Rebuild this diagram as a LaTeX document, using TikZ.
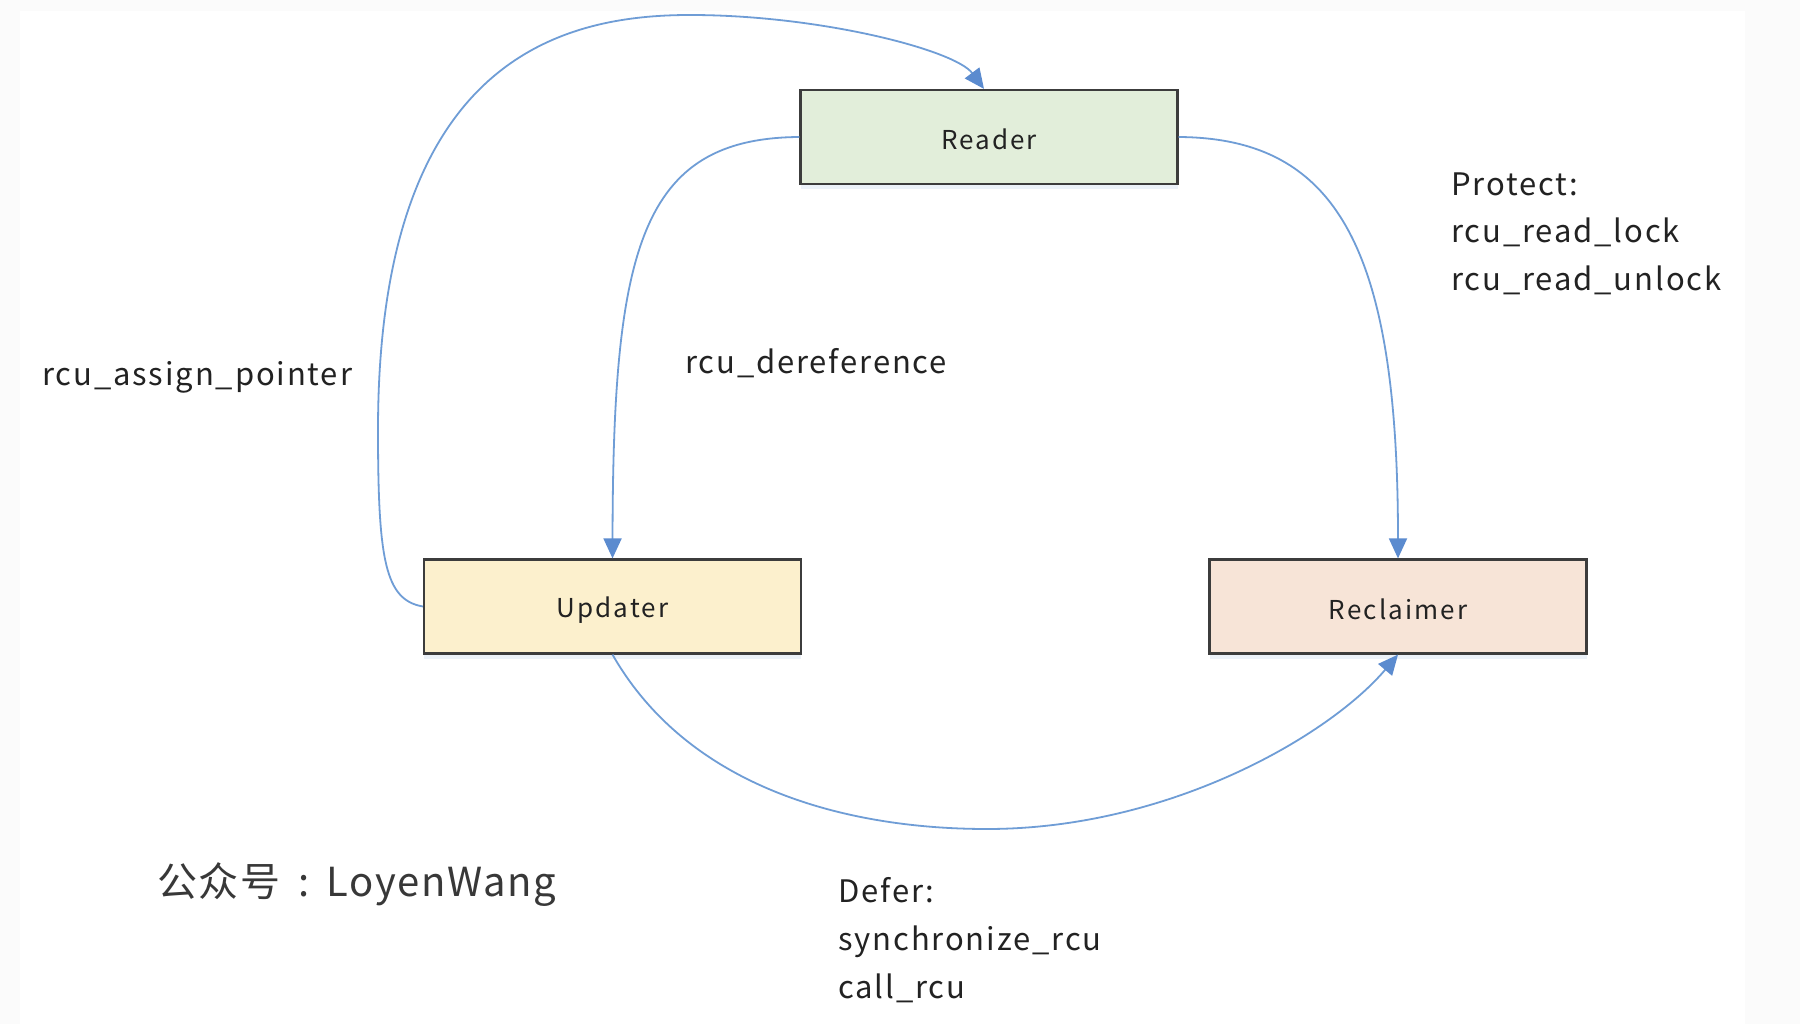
\documentclass[tikz,border=0pt]{standalone}
\usepackage{fontspec}
\setmainfont{Noto Sans CJK SC}
\newfontfamily\lblfont[LetterSpace=6]{Noto Sans CJK SC}
\newfontfamily\boxfont[LetterSpace=8]{Noto Sans CJK SC}
\newfontfamily\wmfont[LetterSpace=4]{Noto Sans CJK SC}
\usetikzlibrary{arrows.meta,shadows}
\definecolor{lineblue}{HTML}{6F9DD6}
\definecolor{tipblue}{HTML}{5B8BCF}
\definecolor{readerfill}{HTML}{E2EEDA}
\definecolor{updaterfill}{HTML}{FCF0CD}
\definecolor{reclaimfill}{HTML}{F7E4D7}
\definecolor{boxborder}{HTML}{3C3C3C}
\definecolor{txt}{HTML}{222222}
\tikzset{
  box/.style={draw=boxborder, line width=2.2pt, minimum width=377pt, minimum height=94pt,
    inner sep=0pt, font=\boxfont\fontsize{26}{30}\selectfont, text=txt,
    drop shadow={shadow xshift=0pt, shadow yshift=-5pt, fill=lineblue!25, opacity=0.5}},
  boxtext/.style={inner sep=0pt, text=txt, font=\boxfont\fontsize{26}{30}\selectfont},
  conn/.style={draw=lineblue, line width=1.8pt, -{Triangle[length=20pt,width=18pt,fill=tipblue,color=tipblue]}},
  lbl/.style={anchor=mid west, inner sep=0pt, text=txt, font=\lblfont\fontsize{31}{36}\selectfont},
  wm/.style={anchor=mid west, inner sep=0pt, text=txt!90, font=\wmfont\fontsize{40}{46}\selectfont}
}
\begin{document}
\begin{tikzpicture}[x=1pt,y=-1pt]
\useasboundingbox (0,0) rectangle (1800,1024);
\fill[black!1.5] (0,0) rectangle (1800,1024);
\fill[white] (20,11) rectangle (1745,1024);

\node[box, fill=readerfill]  (reader)  at (989,137) {};
\node[box, fill=updaterfill] (updater) at (612.5,606.5) {};
\node[box, fill=reclaimfill] (reclaim) at (1398,606.5) {};
\node[boxtext] (readerT)  at ([yshift=-2pt]reader.center)  {Reader};
\node[boxtext] (updaterT) at ([yshift=-4pt]updater.center) {Updater};
\node[boxtext] (reclaimT) at ([yshift=-3pt]reclaim.center) {Reclaimer};

\coordinate (topL) at (378,430);
\coordinate (topM) at (690,15);

\draw[conn] (updater.west) .. controls (385,600) and (378,560) .. (topL)
  .. controls (378,60) and (560,15) .. (topM)
  .. controls (820,15) and (955,50) .. (reader.north -| 984,0);
\draw[conn] (reader.west) .. controls (640,138) and (613,250) .. (updater.north);
\draw[conn] (reader.east) .. controls (1338,138) and (1398,250) .. (reclaim.north);
\coordinate (botM) at (987,829);
\draw[conn] (updater.south) .. controls (690,790) and (850,829) .. (botM)
  .. controls (1170,829) and (1330,735) .. (reclaim.south);

\node[lbl] (assign) at (42,383) {rcu\_assign\_pointer};
\node[lbl] (deref) at (685,371) {rcu\_dereference};
\node[lbl] (prot1) at (1451,193) {Protect:};
\node[lbl] (prot2) at (1451,240) {rcu\_read\_lock};
\node[lbl] (prot3) at (1451,288) {rcu\_read\_unlock};
\node[lbl] (def1) at (838,900) {Defer:};
\node[lbl] (def2) at (838,948) {synchronize\_rcu};
\node[lbl] (def3) at (838,996) {call\_rcu};
\node[wm] (wmark) at (157,894) {公众号\hspace{18pt}:\hspace{17pt}LoyenWang};
\end{tikzpicture}
\end{document}
